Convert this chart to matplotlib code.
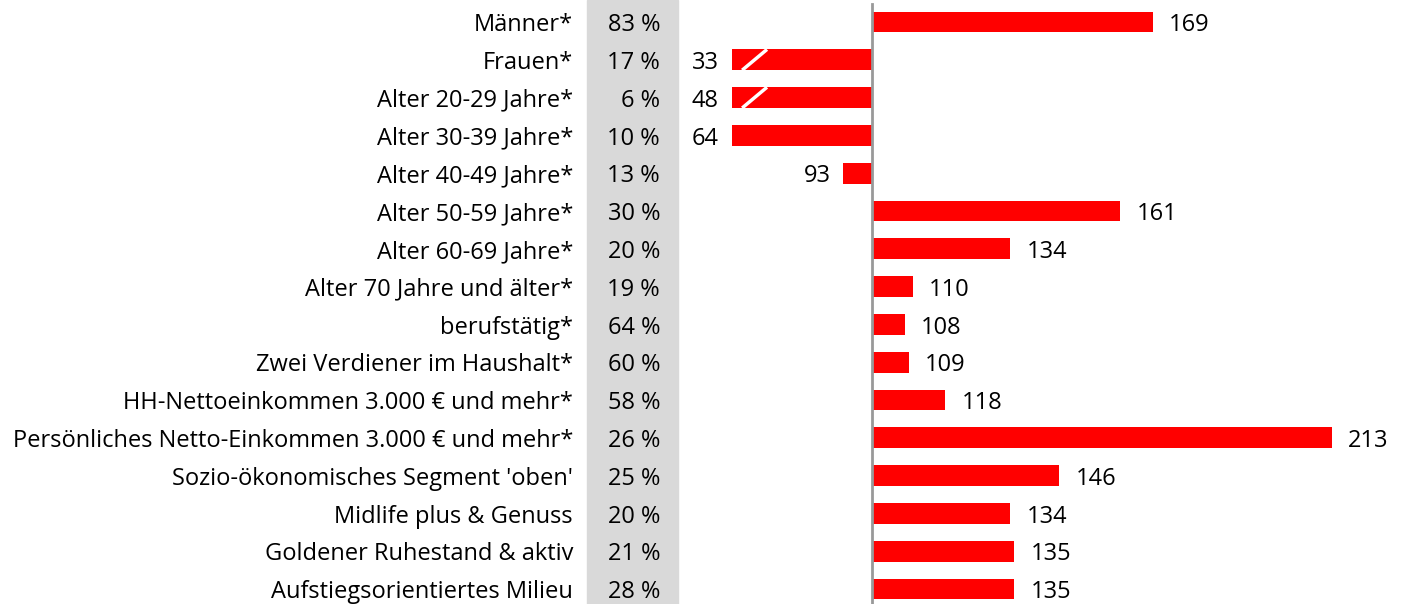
import matplotlib

matplotlib.use("Agg")
import matplotlib.pyplot as plt
from matplotlib import transforms
from matplotlib.patches import Rectangle

plt.rcParams["font.family"] = ["Open Sans", "DejaVu Sans"]

# Daten
labels = [
    "Männer*",
    "Frauen*",
    "Alter 20-29 Jahre*",
    "Alter 30-39 Jahre*",
    "Alter 40-49 Jahre*",
    "Alter 50-59 Jahre*",
    "Alter 60-69 Jahre*",
    "Alter 70 Jahre und älter*",
    "berufstätig*",
    "Zwei Verdiener im Haushalt*",
    "HH-Nettoeinkommen 3.000 € und mehr*",
    "Persönliches Netto-Einkommen 3.000 € und mehr*",
    "Sozio-ökonomisches Segment 'oben'",
    "Midlife plus & Genuss",
    "Goldener Ruhestand & aktiv",
    "Aufstiegsorientiertes Milieu",
]
shares = [83, 17, 6, 10, 13, 30, 20, 19, 64, 60, 58, 26, 25, 20, 21, 28]
index = [169, 33, 48, 64, 93, 161, 134, 110, 108, 109, 118, 213, 146, 134, 135, 135]

BASE = 100
X_MIN, X_MAX = 65.6, 230.5
BREAK_BELOW = 50  # Balken mit Bruchmarke
W, H = 1403, 604
FS = 17
DY = 0.245  # Grundlinie unter Zeilenmitte

fig = plt.figure(figsize=(W / 100, H / 100), dpi=100)
ax = fig.add_axes([732 / W, 0, 1 - 732 / W, 1])

n = len(labels)
ys = list(range(n))
bar_h = 0.55

ax.barh(ys, [v - BASE for v in index], left=BASE, height=bar_h, color="#ff0000")
ax.set_xlim(X_MIN, X_MAX)
ax.set_ylim(n - 1 + 15 / 37.8, -22 / 37.8)
ax.axvline(BASE, ymin=0, ymax=(H - 4) / H, color="#999999", lw=2, zorder=3)
ax.axis("off")

# Bruchmarken
for y, v in zip(ys, index):
    if v < BREAK_BELOW:
        ax.plot([X_MIN + 2.5, X_MIN + 8.6], [y + bar_h / 2, y - bar_h / 2],
                color="white", lw=2.5, solid_capstyle="butt")

# Werte
for y, v in zip(ys, index):
    if v >= BASE:
        ax.text(v + 4, y + DY, f"{v}", ha="left", va="baseline", fontsize=FS)
    else:
        ax.text(max(v, X_MIN) - 3.2, y + DY, f"{v}", ha="right", va="baseline", fontsize=FS)

# graue Spalte + Beschriftungen links
fig.patches.append(Rectangle((587 / W, 0), 91 / W, 1, transform=fig.transFigure,
                             color="#d9d9d9", zorder=0))
trans = transforms.blended_transform_factory(fig.transFigure, ax.transData)
for y, lab, s in zip(ys, labels, shares):
    fig.text(573 / W, y + DY, lab, transform=trans, ha="right", va="baseline", fontsize=FS)
    fig.text(660 / W, y + DY, f"{s} %", transform=trans, ha="right", va="baseline", fontsize=FS)

fig.savefig("out.png", dpi=100)
